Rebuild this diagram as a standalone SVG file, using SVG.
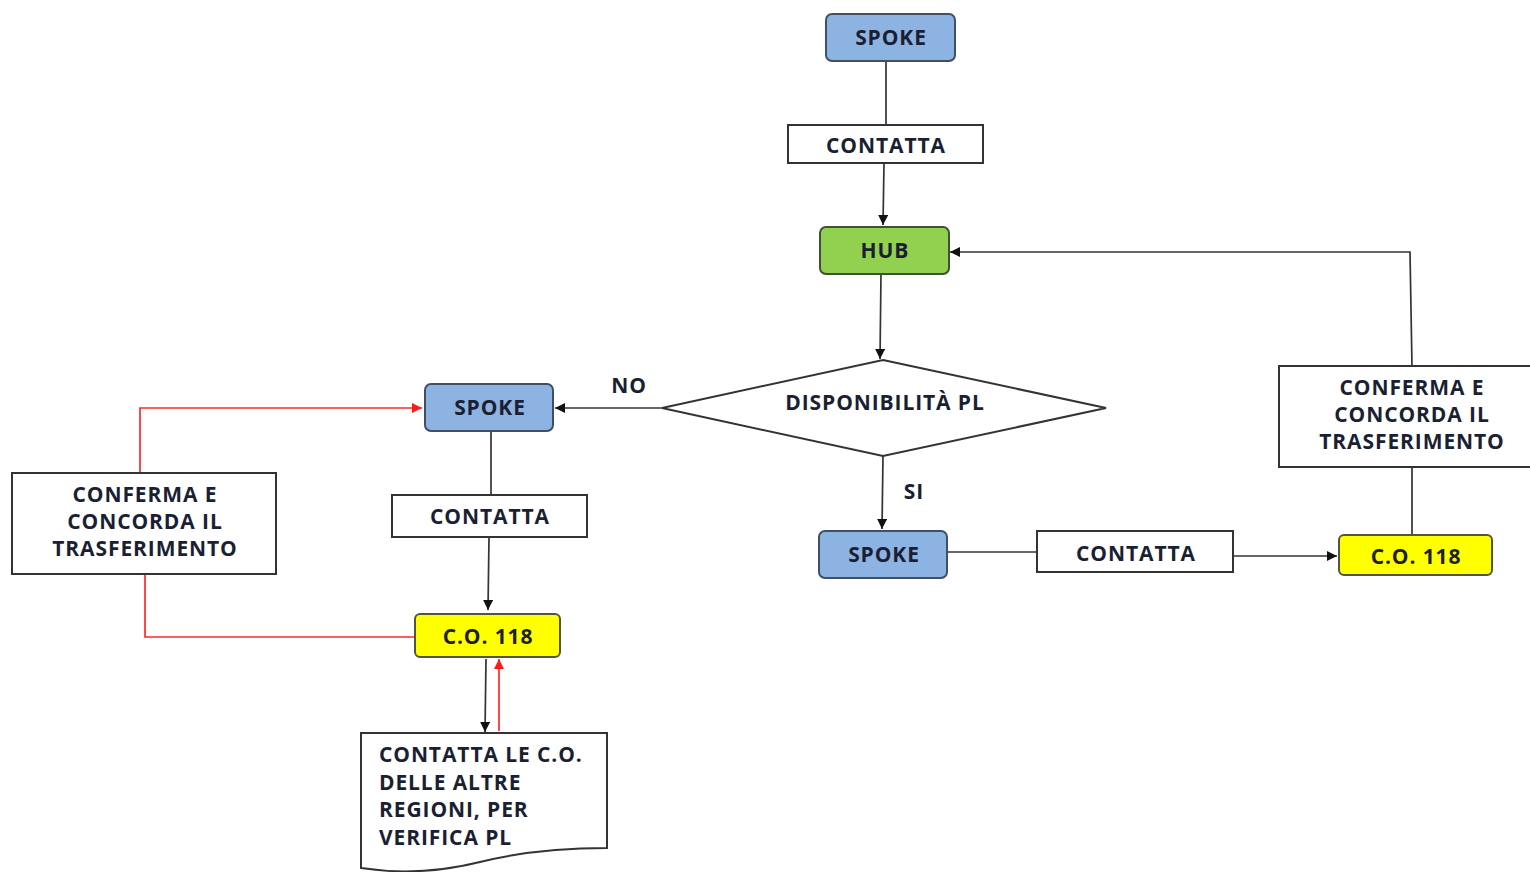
<svg xmlns="http://www.w3.org/2000/svg" width="1530" height="872" viewBox="0 0 1530 872">
  <style>
    .t { font-family: "Open Sans", "Noto Sans", "Liberation Sans", sans-serif; font-weight: bold; font-size: 21px; letter-spacing: 0.9px; fill: #1b1f33; text-anchor: middle; }
    .tl { text-anchor: start; }
    .blue { fill: #8db3e2; stroke: #3f4f66; stroke-width: 2; }
    .green { fill: #92d050; stroke: #3f4f3a; stroke-width: 2; }
    .yellow { fill: #ffff00; stroke: #55553a; stroke-width: 2; }
    .box { fill: #ffffff; stroke: #333333; stroke-width: 2; }
    .ln { fill: none; stroke: #333333; stroke-width: 1.7; }
    .red { fill: none; stroke: #ff2a2a; stroke-width: 1.7; }
  </style>
  <defs>
    <marker id="ah" viewBox="0 0 10 10" refX="10" refY="5" markerWidth="10" markerHeight="10" markerUnits="userSpaceOnUse" orient="auto">
      <path d="M0,0 L10,5 L0,10 z" fill="#111111"/>
    </marker>
    <marker id="ahr" viewBox="0 0 10 10" refX="10" refY="5" markerWidth="10" markerHeight="10" markerUnits="userSpaceOnUse" orient="auto">
      <path d="M0,0 L10,5 L0,10 z" fill="#ff1a1a"/>
    </marker>
  </defs>
  <rect width="1530" height="872" fill="#ffffff"/>

  <g id="connectors">
    <path class="ln" d="M886,61 L886,125"/>
    <path class="ln" d="M884,163 L883,225" marker-end="url(#ah)"/>
    <path class="ln" d="M881,274 L880,359" marker-end="url(#ah)"/>
    <path class="ln" d="M662,408 L555,408" marker-end="url(#ah)"/>
    <path class="ln" d="M491,431 L491,495"/>
    <path class="ln" d="M489,537 L488,610" marker-end="url(#ah)"/>
    <path class="ln" d="M486,659 L485,732" marker-end="url(#ah)"/>
    <path class="red" d="M499,731 L499,659" marker-end="url(#ahr)"/>
    <path class="red" d="M415,637 L145,637 L145,574"/>
    <path class="red" d="M140,473 L140,408 L422,408" marker-end="url(#ahr)"/>
    <path class="ln" d="M883,456 L882,529" marker-end="url(#ah)"/>
    <path class="ln" d="M947,552 L1037,552"/>
    <path class="ln" d="M1233,556 L1337,556" marker-end="url(#ah)"/>
    <path class="ln" d="M1412,535 L1412,467"/>
    <path class="ln" d="M1412,366 L1410,252 L950,252" marker-end="url(#ah)"/>
  </g>

  <g id="spoke-top">
    <rect class="blue" x="826" y="14" width="129" height="47" rx="6"/>
    <text class="t" x="891" y="45">SPOKE</text>
  </g>
  <g id="contatta-top">
    <rect class="box" x="788" y="125" width="195" height="38"/>
    <text class="t" x="886" y="153">CONTATTA</text>
  </g>
  <g id="hub">
    <rect class="green" x="820" y="227" width="129" height="47" rx="6"/>
    <text class="t" x="885" y="258">HUB</text>
  </g>
  <g id="decision">
    <polygon class="box" points="883,360 1106,408 883,456 662,408"/>
    <text class="t" x="885" y="410">DISPONIBILITÀ PL</text>
  </g>
  <g id="label-no">
    <text class="t" x="629" y="393">NO</text>
  </g>
  <g id="label-si">
    <text class="t" x="914" y="499">SI</text>
  </g>
  <g id="spoke-left">
    <rect class="blue" x="425" y="384" width="128" height="47" rx="6"/>
    <text class="t" x="490" y="415">SPOKE</text>
  </g>
  <g id="contatta-left">
    <rect class="box" x="392" y="495" width="195" height="42"/>
    <text class="t" x="490" y="524">CONTATTA</text>
  </g>
  <g id="co118-left">
    <rect class="yellow" x="415" y="614" width="145" height="43" rx="5"/>
    <text class="t" x="488" y="644">C.O. 118</text>
  </g>
  <g id="conferma-left">
    <rect class="box" x="12" y="473" width="264" height="101"/>
    <text class="t" x="145" y="502">CONFERMA E</text>
    <text class="t" x="145" y="529">CONCORDA IL</text>
    <text class="t" x="145" y="556">TRASFERIMENTO</text>
  </g>
  <g id="documento">
    <path class="box" d="M361,733 L607,733 L607,848 C560,848 520,852 480,862 C440,872 400,874 361,868 Z"/>
    <text class="t tl" x="379" y="762">CONTATTA LE C.O.</text>
    <text class="t tl" x="379" y="790">DELLE ALTRE</text>
    <text class="t tl" x="379" y="817">REGIONI, PER</text>
    <text class="t tl" x="379" y="845">VERIFICA PL</text>
  </g>
  <g id="spoke-right">
    <rect class="blue" x="819" y="531" width="128" height="47" rx="6"/>
    <text class="t" x="884" y="562">SPOKE</text>
  </g>
  <g id="contatta-right">
    <rect class="box" x="1037" y="531" width="196" height="41"/>
    <text class="t" x="1136" y="561">CONTATTA</text>
  </g>
  <g id="co118-right">
    <rect class="yellow" x="1339" y="535" width="153" height="40" rx="5"/>
    <text class="t" x="1416" y="564">C.O. 118</text>
  </g>
  <g id="conferma-right">
    <rect class="box" x="1279" y="366" width="260" height="101"/>
    <text class="t" x="1412" y="395">CONFERMA E</text>
    <text class="t" x="1412" y="422">CONCORDA IL</text>
    <text class="t" x="1412" y="449">TRASFERIMENTO</text>
  </g>
</svg>
